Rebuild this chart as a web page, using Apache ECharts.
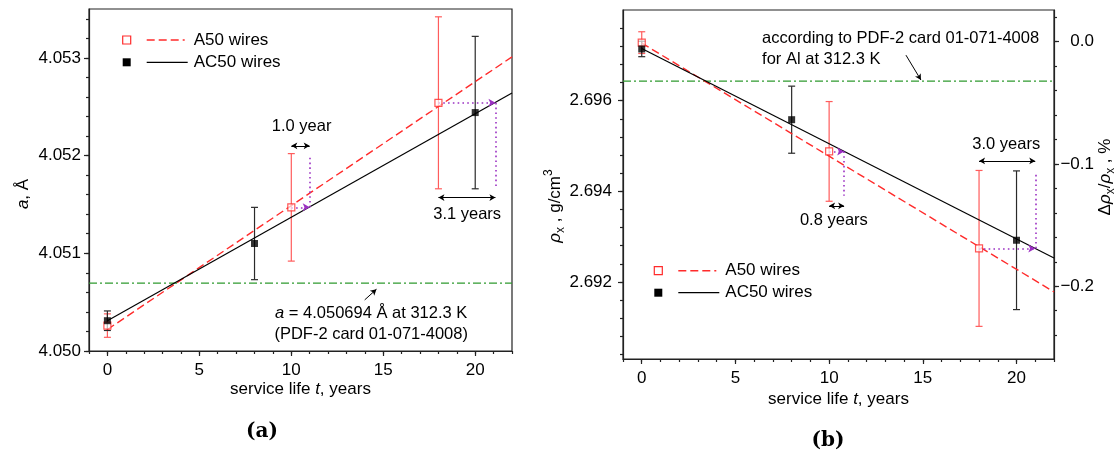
<!DOCTYPE html>
<html>
<head>
<meta charset="utf-8">
<script src="https://cdn.jsdelivr.net/npm/echarts@6/dist/echarts.min.js"></script>
<style>
  html, body { margin: 0; padding: 0; background: #fff; }
  #chart { width: 1115px; height: 455px; }
</style>
</head>
<body>
<div id="chart"></div>
<script>
// ---------- data ----------
// service life, years
const tA50 = [0, 10, 18];
const tAC50 = [0, 8, 20];

// (a) lattice parameter a, Å
const latticeA50 = [4.05026, 4.05147, 4.05254];
const latticeA50Err = [0.00012, 0.00055, 0.00088];
const latticeAC50 = [4.05031, 4.05110, 4.05244];
const latticeAC50Err = [0.00010, 0.00037, 0.00078];
const latticeFitA50 = [[0, 4.05022], [22, 4.05301]];
const latticeFitAC50 = [[0, 4.05031], [22, 4.05264]];
const latticeRef = 4.050694;

// (b) X-ray density, g/cm3
const densityA50 = [2.69728, 2.69488, 2.69274];
const densityA50Err = [0.00024, 0.00110, 0.00172];
const densityAC50 = [2.69714, 2.69558, 2.69292];
const densityAC50Err = [0.00017, 0.00074, 0.00153];
const densityFitA50 = [[0, 2.69727], [22, 2.69178]];
const densityFitAC50 = [[0, 2.69715], [22, 2.69253]];
const densityRef = 2.69643;
const densityBase = 2.6973;   // zero of the relative (%) scale

// ageing shifts: A50 value at t0 reached by AC50 at t1
const latticeShifts = [
  { t0: 10, t1: 11.0, value: 4.05147, label: '1.0 year' },
  { t0: 18, t1: 21.1, value: 4.05254, label: '3.1 years' }
];
const densityShifts = [
  { t0: 10, t1: 10.8, value: 2.69488, label: '0.8 years' },
  { t0: 18, t1: 21.0, value: 2.69274, label: '3.0 years' }
];

// tick labels
const tTicks = [0, 5, 10, 15, 20];
const latticeTicks = [4.050, 4.051, 4.052, 4.053];
const densityTicks = [2.692, 2.694, 2.696];
const relTicks = [0, -0.1, -0.2];

// ---------- styling ----------
const FONT = 'Arial, "Liberation Sans", Helvetica, sans-serif';
const AX = '#222';
const TXT = '#000';
const RED = '#ff2b2b';
const RED_BAR = '#ff5c5c';
const BLACK = '#000';
const BAR_BLACK = '#2a2a2a';
const PURPLE = '#9b30c2';
const GREEN = '#2f9a2f';

function steps(from, to, step, dec) {
  const out = [];
  const n = Math.round((to - from) / step);
  for (let i = 0; i <= n; i++) out.push(+(from + i * step).toFixed(dec));
  return out;
}
const tMinor = steps(-1, 22, 1, 0);
const latticeMinor = steps(4.0500, 4.0534, 0.0002, 4);
const densityMinor = steps(2.6904, 2.6976, 0.0004, 4);
const relMinor = steps(-0.24, 0.02, 0.02, 2);

const LAT_MIN = 4.0500, LAT_MAX = 4.0535;
const DEN_MIN = 2.6903, DEN_MAX = 2.6980;
const REL_MIN = (DEN_MIN / densityBase - 1) * 100;
const REL_MAX = (DEN_MAX / densityBase - 1) * 100;

const labelFont = { fontSize: 17, fontFamily: FONT, color: TXT };
const richName = {
  n: { fontSize: 17, fontFamily: FONT, color: TXT },
  i: { fontSize: 17, fontFamily: FONT, color: TXT, fontStyle: 'italic' }
};

function xMajor(grid) {
  return {
    type: 'value', gridIndex: grid, min: -1, max: 22, position: 'bottom',
    axisLine: { show: true, onZero: false, lineStyle: { color: AX, width: 1.2 } },
    axisTick: { show: true, length: 5, customValues: tTicks, lineStyle: { color: AX, width: 1.2 } },
    axisLabel: Object.assign({ show: true, margin: 11, customValues: tTicks }, labelFont),
    splitLine: { show: false },
    name: '{n|service life }{i|t}{n|, years}',
    nameLocation: 'middle', nameGap: grid === 0 ? 30 : 32, nameMoveOverlap: false,
    nameTextStyle: { rich: richName, fontSize: 17, fontFamily: FONT, color: TXT }
  };
}
function minorAxis(grid, min, max, values, position) {
  return {
    type: 'value', gridIndex: grid, min, max, position,
    axisLine: { show: false, onZero: false },
    axisTick: { show: true, length: 3, customValues: values, lineStyle: { color: AX, width: 1.2 } },
    axisLabel: { show: false },
    splitLine: { show: false }
  };
}
function yMajor(grid, min, max, ticks, margin, fmt, position) {
  return {
    type: 'value', gridIndex: grid, min, max, position,
    axisLine: { show: true, onZero: false, lineStyle: { color: AX, width: 1.2 } },
    axisTick: { show: true, length: 5, customValues: ticks, lineStyle: { color: AX, width: 1.2 } },
    axisLabel: Object.assign({ show: true, margin, customValues: ticks, formatter: fmt,
      align: 'right' }, labelFont),
    splitLine: { show: false }
  };
}

// ---------- series builders ----------
function errorBars(xi, yi, t, v, e, color) {
  return {
    type: 'custom', xAxisIndex: xi, yAxisIndex: yi, silent: true, z: 2,
    encode: { x: 0, y: 1 },
    data: t.map((x, i) => [x, v[i], e[i]]),
    renderItem(params, api) {
      const x = api.value(0), y = api.value(1), d = api.value(2);
      const top = api.coord([x, y + d]);
      const bot = api.coord([x, y - d]);
      const w = 3.5;
      const st = { stroke: color, lineWidth: 1.2 };
      return {
        type: 'group', children: [
          { type: 'line', shape: { x1: top[0], y1: top[1], x2: bot[0], y2: bot[1] }, style: st },
          { type: 'line', shape: { x1: top[0] - w, y1: top[1], x2: top[0] + w, y2: top[1] }, style: st },
          { type: 'line', shape: { x1: bot[0] - w, y1: bot[1], x2: bot[0] + w, y2: bot[1] }, style: st }
        ]
      };
    }
  };
}
function points(xi, yi, t, v, open) {
  return {
    type: 'scatter', xAxisIndex: xi, yAxisIndex: yi, silent: true, z: 6,
    symbol: 'rect', symbolSize: 7,
    itemStyle: open ? { color: 'rgba(255,255,255,0.85)', borderColor: RED, borderWidth: 1.2 }
                    : { color: BLACK, borderColor: BLACK, borderWidth: 0 },
    data: t.map((x, i) => [x, v[i]])
  };
}
function fitLine(xi, yi, data, red) {
  return {
    type: 'line', xAxisIndex: xi, yAxisIndex: yi, silent: true, z: red ? 3 : 4,
    showSymbol: false, symbol: 'none', data,
    lineStyle: red ? { color: RED, width: 1.4, type: [8, 4] } : { color: BLACK, width: 1.2 }
  };
}
function refLine(xi, yi, value) {
  return {
    type: 'line', xAxisIndex: xi, yAxisIndex: yi, silent: true, z: 3,
    showSymbol: false, symbol: 'none', data: [[-1, value], [22, value]],
    lineStyle: { color: GREEN, width: 1.3, type: [8, 3, 2, 3] }
  };
}
const dotted = { color: PURPLE, width: 1.6, type: [1.6, 3.2] };
const thin = { color: TXT, width: 1, type: 'solid' };
function seg(a, b, style, s0, s1, size) {
  return [
    { coord: a, symbol: s0, symbolSize: size, lineStyle: style },
    { coord: b, symbol: s1, symbolSize: size }
  ];
}
// shift annotations: dotted horizontal with arrowhead, dotted vertical, double arrow
function shiftMarks(shifts, verticalEnds, arrowLevels) {
  const out = [];
  shifts.forEach((s, i) => {
    out.push(seg([s.t0, s.value], [s.t1, s.value], dotted, 'none', 'arrow', [6, 7]));
    out.push(seg([s.t1, s.value], [s.t1, verticalEnds[i]], dotted, 'none', 'none', 4));
    out.push(seg([s.t0, arrowLevels[i]], [s.t1, arrowLevels[i]], thin, 'arrow', 'arrow', [5, 6]));
  });
  return out;
}
function annotations(xi, yi, marks) {
  return {
    type: 'line', xAxisIndex: xi, yAxisIndex: yi, silent: true, z: 5, data: [],
    markLine: {
      silent: true, animation: false, label: { show: false },
      emphasis: { disabled: true }, precision: 6, data: marks
    }
  };
}
function texts(xi, yi, items) {
  return {
    type: 'scatter', xAxisIndex: xi, yAxisIndex: yi, silent: true, z: 7,
    symbol: 'circle', symbolSize: 1, itemStyle: { color: 'rgba(255,255,255,0)' },
    data: items.map(it => ({
      value: it.at,
      label: {
        show: true, position: [0, 0], formatter: it.text,
        align: it.align || 'center', verticalAlign: 'middle',
        fontSize: 16.5, fontFamily: FONT, color: TXT, lineHeight: 21,
        textBorderWidth: 0, opacity: 1,
        rich: {
          i: { fontSize: 16.5, fontFamily: FONT, color: TXT, fontStyle: 'italic', lineHeight: 21 }
        }
      }
    }))
  };
}

// ---------- legends, axis titles, panel letters ----------
function legend(x, y, gap) {
  const row = (yy, open, label) => [
    { type: 'rect', shape: { x: x - 4, y: yy - 4, width: 8, height: 8 },
      style: open ? { fill: '#fff', stroke: RED, lineWidth: 1.2 } : { fill: BLACK } },
    { type: 'line', shape: { x1: x + 20, y1: yy, x2: x + (open ? 58 : 61), y2: yy },
      style: open ? { stroke: RED, lineWidth: 1.4, lineDash: [8, 4] } : { stroke: BLACK, lineWidth: 1.2 } },
    { type: 'text', x: x + 67, y: yy,
      style: { text: label, fontSize: 17, fontFamily: FONT, fill: TXT, align: 'left', verticalAlign: 'middle' } }
  ];
  return row(y, true, 'A50 wires').concat(row(y + gap, false, 'AC50 wires'));
}
const richTitle = {
  n: { fontSize: 17, fontFamily: FONT, fill: TXT, lineHeight: 24 },
  i: { fontSize: 17, fontFamily: FONT, fill: TXT, fontStyle: 'italic', lineHeight: 24 },
  s: { fontSize: 12, fontFamily: FONT, fill: TXT, lineHeight: 14, verticalAlign: 'bottom' },
  p: { fontSize: 12, fontFamily: FONT, fill: TXT, lineHeight: 14, verticalAlign: 'top' }
};
function vTitle(x, y, text) {
  return {
    type: 'text', x, y, rotation: Math.PI / 2,
    style: { text, rich: richTitle, fontSize: 17, fontFamily: FONT, fill: TXT,
      align: 'center', verticalAlign: 'middle' }
  };
}
function panelLetter(x, y, text) {
  return {
    type: 'text', x, y,
    style: { text, fontSize: 20, fontWeight: 'bold', fontFamily: '"DejaVu Serif", "Liberation Serif", serif',
      fill: TXT, align: 'center', verticalAlign: 'middle' }
  };
}

const chart = echarts.init(document.getElementById('chart'), null, { renderer: 'canvas' });
chart.setOption({
  animation: false,
  backgroundColor: '#fff',
  grid: [
    { left: 89, top: 9, width: 423, height: 342, show: true, borderColor: AX, borderWidth: 1.2,
      backgroundColor: 'transparent', outerBoundsMode: 'none' },
    { left: 623, top: 10, width: 431, height: 349, show: true, borderColor: AX, borderWidth: 1.2,
      backgroundColor: 'transparent', outerBoundsMode: 'none' }
  ],
  xAxis: [
    xMajor(0),
    minorAxis(0, -1, 22, tMinor, 'bottom'),
    xMajor(1),
    minorAxis(1, -1, 22, tMinor, 'bottom')
  ],
  yAxis: [
    yMajor(0, LAT_MIN, LAT_MAX, latticeTicks, 8, v => v.toFixed(3), 'left'),
    minorAxis(0, LAT_MIN, LAT_MAX, latticeMinor, 'left'),
    yMajor(1, DEN_MIN, DEN_MAX, densityTicks, 11, v => v.toFixed(3), 'left'),
    minorAxis(1, DEN_MIN, DEN_MAX, densityMinor, 'left'),
    yMajor(1, REL_MIN, REL_MAX, relTicks, 40,
      v => (Math.abs(v) < 1e-9 ? '0.0' : '\u2212' + Math.abs(v).toFixed(1)), 'right'),
    minorAxis(1, REL_MIN, REL_MAX, relMinor, 'right')
  ],
  series: [
    // (a)
    refLine(0, 0, latticeRef),
    fitLine(0, 0, latticeFitA50, true),
    fitLine(0, 0, latticeFitAC50, false),
    errorBars(0, 0, tA50, latticeA50, latticeA50Err, RED_BAR),
    errorBars(0, 0, tAC50, latticeAC50, latticeAC50Err, BAR_BLACK),
    points(0, 0, tA50, latticeA50, true),
    points(0, 0, tAC50, latticeAC50, false),
    annotations(0, 0, shiftMarks(latticeShifts, [4.05199, 4.05168], [4.05210, 4.05157])
      .concat([seg([13.99, 4.050523], [14.63, 4.050632], thin, 'none', 'arrow', [5, 6])])),
    texts(0, 0, [
      { at: [10.59, 4.05229], text: latticeShifts[0].label },
      { at: [19.59, 4.05139], text: latticeShifts[1].label },
      { at: [14.37, 4.05027], text: '{i|a} = 4.050694 Å at 312.3 K\n(PDF-2 card 01-071-4008)' }
    ]),
    // (b)
    refLine(2, 2, densityRef),
    fitLine(2, 2, densityFitA50, true),
    fitLine(2, 2, densityFitAC50, false),
    errorBars(2, 2, tA50, densityA50, densityA50Err, RED_BAR),
    errorBars(2, 2, tAC50, densityAC50, densityAC50Err, BAR_BLACK),
    points(2, 2, tA50, densityA50, true),
    points(2, 2, tAC50, densityAC50, false),
    annotations(2, 2, shiftMarks(densityShifts, [2.69390, 2.69440], [2.69368, 2.69467])
      .concat([seg([14.10, 2.697004], [14.90, 2.696455], thin, 'none', 'arrow', [5, 6])])),
    texts(2, 2, [
      { at: [10.28, 2.69335], text: densityShifts[0].label },
      { at: [19.48, 2.69503], text: densityShifts[1].label },
      { at: [6.45, 2.69712], text: 'according to PDF-2 card 01-071-4008\nfor Al at 312.3 K', align: 'left' }
    ])
  ],
  graphic: [].concat(
    legend(126.7, 40, 22.3),
    legend(658.3, 270.7, 22),
    [
      vTitle(23, 194, '{i|a}{n|, Å}'),
      vTitle(555, 206, '{i|ρ}{s|x}{n| , g/cm}{p|3}'),
      vTitle(1105, 177, '{n|Δ}{i|ρ}{s|x}{n|/}{i|ρ}{s|x}{n| , %}'),
      panelLetter(262, 432, '(a)'),
      panelLetter(828, 441, '(b)')
    ]
  )
});
</script>
</body>
</html>
